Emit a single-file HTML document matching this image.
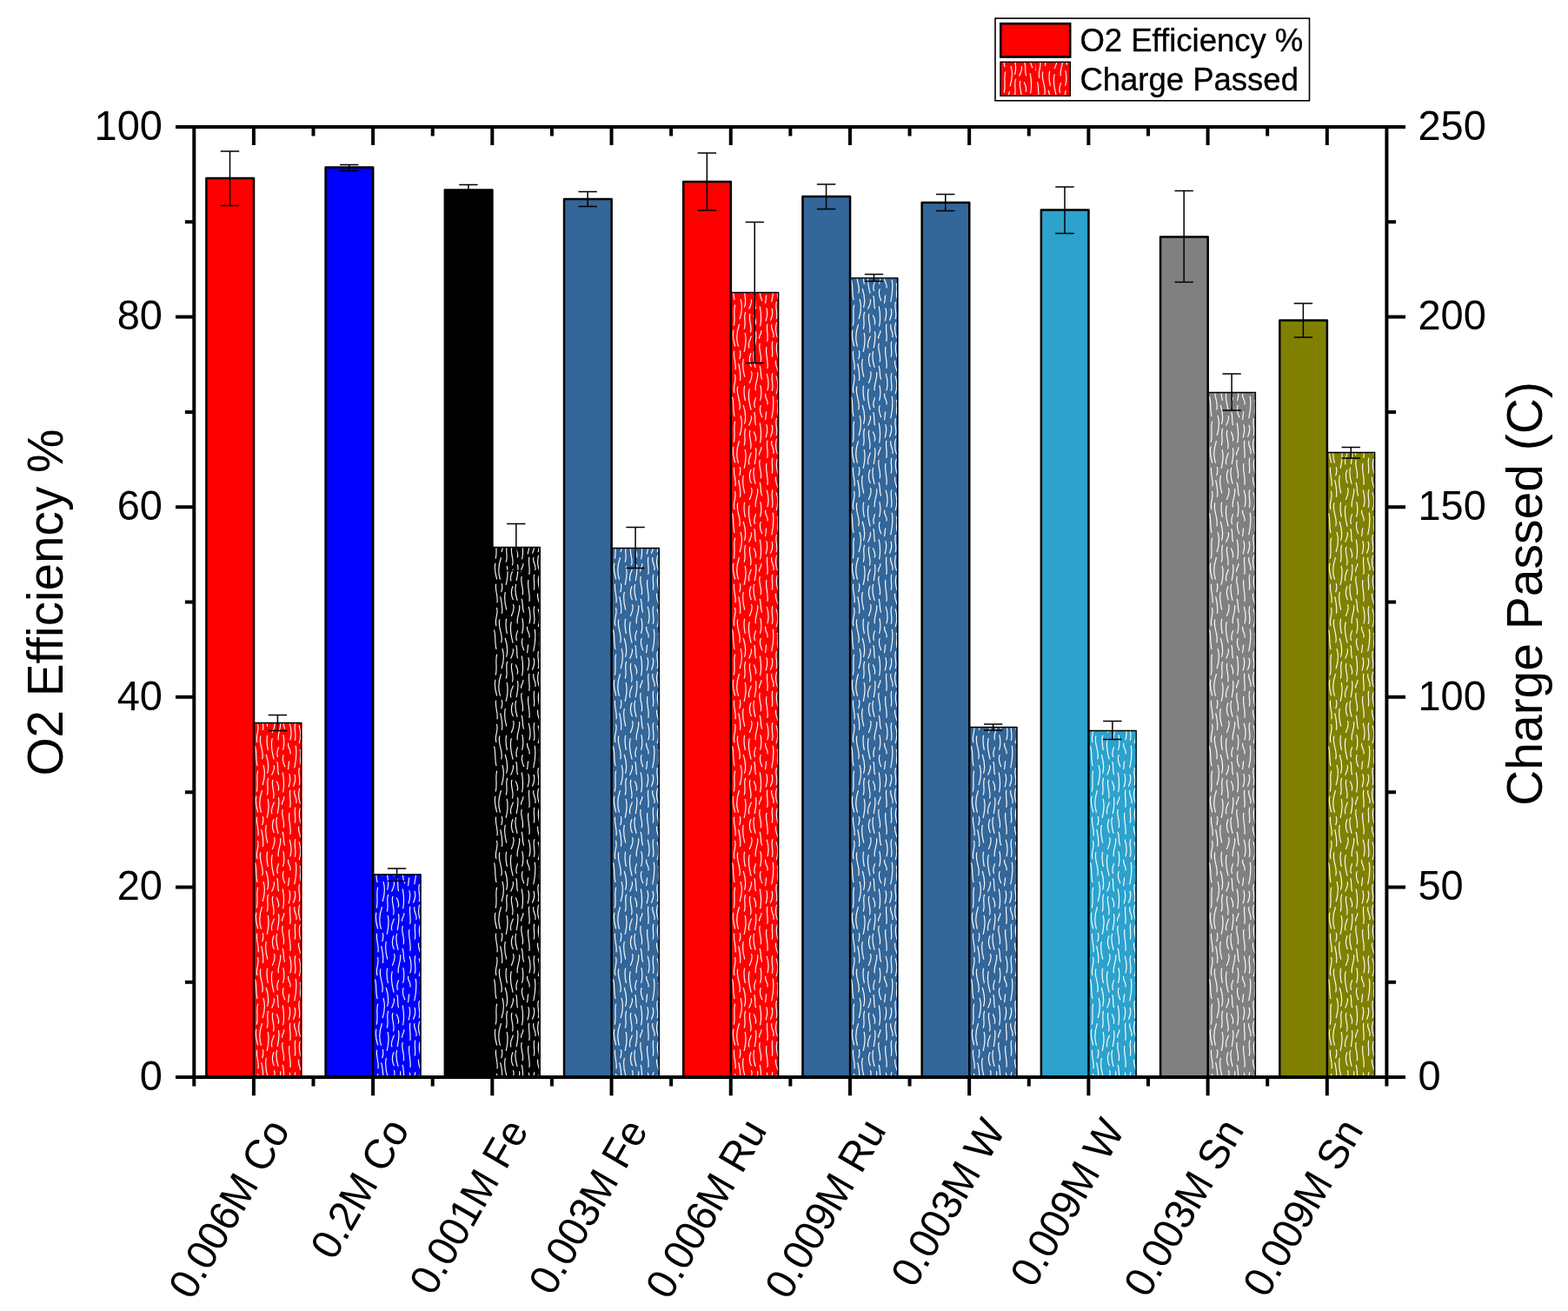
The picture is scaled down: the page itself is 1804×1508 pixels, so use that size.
<!DOCTYPE html>
<html lang="en">
<head>
<meta charset="utf-8">
<title>O2 Efficiency and Charge Passed</title>
<style>
html,body{margin:0;padding:0;background:#fff;}
body{width:1804px;height:1508px;overflow:hidden;}
svg{display:block;}
</style>
</head>
<body>
<svg width="1804" height="1508" viewBox="0 0 1804 1508">
<defs><pattern id="wv" width="58" height="134" patternUnits="userSpaceOnUse"><path d="M4.6 2.0C3.3 8.9 7.3 16.1 6.0 23.0M5.5 29.4C7.9 36.0 2.5 42.9 4.9 49.6M2.6 54.9C4.6 62.1 3.0 69.5 5.0 76.7M5.6 83.0C3.6 90.7 6.3 98.5 4.3 106.1M3.9 112.1C2.2 118.0 4.0 124.1 5.6 130.0M9.8 16.7C11.1 22.9 12.7 29.3 11.4 35.5M8.8 42.9C6.3 51.5 13.3 60.3 10.8 68.9M12.1 76.3C14.3 83.7 13.5 91.3 11.2 98.7M10.4 105.5C7.6 113.7 6.6 122.0 9.4 130.2M11.3 1.5C12.3 4.5 11.8 7.7 10.8 10.7M16.6 42.2C15.4 47.6 16.1 53.1 17.3 58.5M15.3 64.3C17.5 71.2 18.7 78.4 16.6 85.3M17.6 91.2C15.2 97.4 18.6 103.8 16.3 110.1M17.2 115.4C18.9 122.3 17.9 129.5 16.2 136.4M17.2 -18.6C18.9 -11.7 17.9 -4.5 16.2 2.4M15.3 11.3C13.6 17.9 15.0 24.6 16.7 31.2M24.5 25.6C26.4 29.8 24.2 34.2 22.4 38.4M22.2 45.7C20.2 53.4 22.0 61.4 24.0 69.1M24.2 76.6C25.6 80.1 23.2 83.6 21.8 87.1M22.9 93.3C20.6 100.1 25.9 107.2 23.5 114.0M24.3 119.1C22.6 123.3 20.2 127.7 21.9 131.9M23.9 4.6C21.8 9.5 22.0 14.6 24.2 19.6M27.9 72.5C29.5 77.2 27.9 82.1 29.5 86.8M27.5 94.9C29.1 98.2 30.8 101.7 29.2 105.1M29.5 113.6C30.7 119.5 29.5 125.7 28.3 131.7M27.6 2.3C25.9 8.3 27.3 14.4 29.0 20.4M31.6 26.5C32.9 33.2 28.0 40.1 29.3 46.8M29.5 55.6C28.1 59.2 27.1 62.9 28.5 66.5M34.2 127.3C32.2 134.1 37.1 141.1 35.2 147.9M34.2 -6.7C32.2 0.1 37.1 7.1 35.2 13.9M34.2 19.2C36.2 24.1 34.4 29.2 36.5 34.1M34.9 41.7C36.3 47.2 36.1 52.8 34.7 58.3M35.2 64.6C33.3 68.9 34.8 73.5 36.7 77.8M34.3 84.9C35.7 92.2 36.1 99.7 34.7 106.9M35.8 112.5C36.6 115.4 32.8 118.4 33.7 121.3M41.9 86.6C43.4 91.3 42.7 96.2 41.2 101.0M42.8 105.1C41.6 111.5 44.1 118.1 42.8 124.5M41.9 131.4C40.3 139.3 44.4 147.5 42.9 155.5M41.9 -2.6C40.3 5.3 44.4 13.5 42.9 21.5M42.3 28.1C44.1 34.3 44.8 40.7 43.0 46.9M40.8 51.2C39.1 55.1 44.6 59.0 42.9 62.9M41.7 71.9C40.8 74.7 41.5 77.7 40.5 80.6M48.8 27.6C46.5 34.1 50.6 40.9 48.3 47.4M49.2 54.1C50.8 62.3 49.5 70.8 47.8 79.0M48.0 87.2C49.8 91.5 48.5 95.9 46.6 100.2M47.9 105.5C46.2 110.1 51.6 114.9 49.8 119.5M48.7 125.1C47.2 130.7 49.8 136.5 48.3 142.1M48.7 -8.9C47.2 -3.3 49.8 2.5 48.3 8.1M54.2 126.1C52.5 131.6 53.4 137.3 55.0 142.8M54.2 -7.9C52.5 -2.4 53.4 3.3 55.0 8.8M52.7 13.0C51.6 17.0 54.0 21.2 55.0 25.2M53.2 30.9C55.3 37.4 55.3 44.1 53.3 50.6M54.3 58.3C56.3 63.9 53.1 69.6 55.1 75.2M53.5 79.5C51.1 85.8 55.6 92.3 53.2 98.6M53.6 103.1C51.8 108.7 52.5 114.5 54.4 120.1" fill="none" stroke="#fff" stroke-opacity="0.95" stroke-width="1.2" stroke-linecap="round"/></pattern></defs>
<rect width="1804" height="1508" fill="#fff"/>
<rect x="291.91" y="831.00" width="55.60" height="407.60" fill="#ff0000"/>
<rect transform="translate(291 0)" x="1.21" y="832.10" width="54.00" height="405.60" fill="url(#wv)"/>
<path d="M291.61 1239.10V831.50H346.61V1239.10" fill="none" stroke="#000" stroke-width="1.35"/>
<rect x="237.41" y="205.10" width="54.60" height="1034.10" fill="#ff0000" stroke="#000" stroke-width="2.5" stroke-linejoin="round"/>
<path d="M264.51 174.00V236.50M253.81 174.00h21.4M253.81 236.50h21.4" fill="none" stroke="#000" stroke-width="1.5"/>
<path d="M319.41 822.50V840.50M308.71 822.50h21.4M308.71 840.50h21.4" fill="none" stroke="#000" stroke-width="1.5"/>
<rect x="429.12" y="1005.50" width="55.60" height="233.10" fill="#0000ff"/>
<rect transform="translate(429 0)" x="0.42" y="1006.60" width="54.00" height="231.10" fill="url(#wv)"/>
<path d="M428.81 1239.10V1006.00H483.81V1239.10" fill="none" stroke="#000" stroke-width="1.35"/>
<rect x="374.62" y="192.60" width="54.60" height="1046.60" fill="#0000ff" stroke="#000" stroke-width="2.5" stroke-linejoin="round"/>
<path d="M401.72 189.50V196.50M391.02 189.50h21.4M391.02 196.50h21.4" fill="none" stroke="#000" stroke-width="1.5"/>
<path d="M456.62 999.00V1013.50M445.92 999.00h21.4M445.92 1013.50h21.4" fill="none" stroke="#000" stroke-width="1.5"/>
<rect x="566.33" y="629.00" width="55.60" height="609.60" fill="#000000"/>
<rect transform="translate(566 0)" x="0.63" y="630.10" width="54.00" height="607.60" fill="url(#wv)"/>
<path d="M566.03 1239.10V629.50H621.03V1239.10" fill="none" stroke="#000" stroke-width="1.35"/>
<rect x="511.83" y="218.60" width="54.60" height="1020.60" fill="#000000" stroke="#000" stroke-width="2.5" stroke-linejoin="round"/>
<path d="M538.93 212.50V224.50M528.23 212.50h21.4M528.23 224.50h21.4" fill="none" stroke="#000" stroke-width="1.5"/>
<path d="M593.83 602.50V656.50M583.12 602.50h21.4M583.12 656.50h21.4" fill="none" stroke="#000" stroke-width="1.5"/>
<rect x="703.54" y="630.00" width="55.60" height="608.60" fill="#336699"/>
<rect transform="translate(703 0)" x="0.84" y="631.10" width="54.00" height="606.60" fill="url(#wv)"/>
<path d="M703.24 1239.10V630.50H758.24V1239.10" fill="none" stroke="#000" stroke-width="1.35"/>
<rect x="649.04" y="229.10" width="54.60" height="1010.10" fill="#336699" stroke="#000" stroke-width="2.5" stroke-linejoin="round"/>
<path d="M676.14 220.50V237.50M665.44 220.50h21.4M665.44 237.50h21.4" fill="none" stroke="#000" stroke-width="1.5"/>
<path d="M731.04 606.50V653.50M720.34 606.50h21.4M720.34 653.50h21.4" fill="none" stroke="#000" stroke-width="1.5"/>
<rect x="840.75" y="336.00" width="55.60" height="902.60" fill="#ff0000"/>
<rect transform="translate(840 0)" x="1.05" y="337.10" width="54.00" height="900.60" fill="url(#wv)"/>
<path d="M840.45 1239.10V336.50H895.45V1239.10" fill="none" stroke="#000" stroke-width="1.35"/>
<rect x="786.25" y="209.10" width="54.60" height="1030.10" fill="#ff0000" stroke="#000" stroke-width="2.5" stroke-linejoin="round"/>
<path d="M813.35 176.00V242.00M802.65 176.00h21.4M802.65 242.00h21.4" fill="none" stroke="#000" stroke-width="1.5"/>
<path d="M868.25 255.50V417.50M857.55 255.50h21.4M857.55 417.50h21.4" fill="none" stroke="#000" stroke-width="1.5"/>
<rect x="977.96" y="319.30" width="55.60" height="919.30" fill="#336699"/>
<rect transform="translate(977 0)" x="1.26" y="320.40" width="54.00" height="917.30" fill="url(#wv)"/>
<path d="M977.66 1239.10V319.80H1032.66V1239.10" fill="none" stroke="#000" stroke-width="1.35"/>
<rect x="923.46" y="226.10" width="54.60" height="1013.10" fill="#336699" stroke="#000" stroke-width="2.5" stroke-linejoin="round"/>
<path d="M950.56 212.00V240.50M939.86 212.00h21.4M939.86 240.50h21.4" fill="none" stroke="#000" stroke-width="1.5"/>
<path d="M1005.46 315.50V323.60M994.76 315.50h21.4M994.76 323.60h21.4" fill="none" stroke="#000" stroke-width="1.5"/>
<rect x="1115.16" y="836.00" width="55.60" height="402.60" fill="#336699"/>
<rect transform="translate(1115 0)" x="0.46" y="837.10" width="54.00" height="400.60" fill="url(#wv)"/>
<path d="M1114.87 1239.10V836.50H1169.87V1239.10" fill="none" stroke="#000" stroke-width="1.35"/>
<rect x="1060.66" y="233.10" width="54.60" height="1006.10" fill="#336699" stroke="#000" stroke-width="2.5" stroke-linejoin="round"/>
<path d="M1087.76 223.50V242.50M1077.06 223.50h21.4M1077.06 242.50h21.4" fill="none" stroke="#000" stroke-width="1.5"/>
<path d="M1142.66 833.00V840.00M1131.96 833.00h21.4M1131.96 840.00h21.4" fill="none" stroke="#000" stroke-width="1.5"/>
<rect x="1252.38" y="840.00" width="55.60" height="398.60" fill="#2ca2cd"/>
<rect transform="translate(1252 0)" x="0.68" y="841.10" width="54.00" height="396.60" fill="url(#wv)"/>
<path d="M1252.08 1239.10V840.50H1307.08V1239.10" fill="none" stroke="#000" stroke-width="1.35"/>
<rect x="1197.88" y="241.60" width="54.60" height="997.60" fill="#2ca2cd" stroke="#000" stroke-width="2.5" stroke-linejoin="round"/>
<path d="M1224.97 215.00V268.50M1214.27 215.00h21.4M1214.27 268.50h21.4" fill="none" stroke="#000" stroke-width="1.5"/>
<path d="M1279.88 829.50V850.50M1269.17 829.50h21.4M1269.17 850.50h21.4" fill="none" stroke="#000" stroke-width="1.5"/>
<rect x="1389.59" y="451.00" width="55.60" height="787.60" fill="#808080"/>
<rect transform="translate(1389 0)" x="0.89" y="452.10" width="54.00" height="785.60" fill="url(#wv)"/>
<path d="M1389.29 1239.10V451.50H1444.29V1239.10" fill="none" stroke="#000" stroke-width="1.35"/>
<rect x="1335.09" y="272.60" width="54.60" height="966.60" fill="#808080" stroke="#000" stroke-width="2.5" stroke-linejoin="round"/>
<path d="M1362.18 219.50V324.50M1351.48 219.50h21.4M1351.48 324.50h21.4" fill="none" stroke="#000" stroke-width="1.5"/>
<path d="M1417.09 430.00V472.00M1406.38 430.00h21.4M1406.38 472.00h21.4" fill="none" stroke="#000" stroke-width="1.5"/>
<rect x="1526.80" y="520.00" width="55.60" height="718.60" fill="#808000"/>
<rect transform="translate(1526 0)" x="1.10" y="521.10" width="54.00" height="716.60" fill="url(#wv)"/>
<path d="M1526.50 1239.10V520.50H1581.50V1239.10" fill="none" stroke="#000" stroke-width="1.35"/>
<rect x="1472.30" y="368.60" width="54.60" height="870.60" fill="#808000" stroke="#000" stroke-width="2.5" stroke-linejoin="round"/>
<path d="M1499.39 349.00V388.00M1488.69 349.00h21.4M1488.69 388.00h21.4" fill="none" stroke="#000" stroke-width="1.5"/>
<path d="M1554.30 514.50V527.00M1543.60 514.50h21.4M1543.60 527.00h21.4" fill="none" stroke="#000" stroke-width="1.5"/>
<path d="M202.00 146.00H1617.00M202.00 1239.10H1617.00M223.30 146.00V1249.50M1595.40 146.00V1249.50M212.90 255.31H223.30M1595.40 255.31H1606.00M202.00 364.62H223.30M1595.40 364.62H1617.00M212.90 473.93H223.30M1595.40 473.93H1606.00M202.00 583.24H223.30M1595.40 583.24H1617.00M212.90 692.55H223.30M1595.40 692.55H1606.00M202.00 801.86H223.30M1595.40 801.86H1617.00M212.90 911.17H223.30M1595.40 911.17H1606.00M202.00 1020.48H223.30M1595.40 1020.48H1617.00M212.90 1129.79H223.30M1595.40 1129.79H1606.00M291.91 146.00V167.10M291.91 1239.10V1260.30M360.51 146.00V156.40M360.51 1239.10V1249.50M429.12 146.00V167.10M429.12 1239.10V1260.30M497.72 146.00V156.40M497.72 1239.10V1249.50M566.33 146.00V167.10M566.33 1239.10V1260.30M634.93 146.00V156.40M634.93 1239.10V1249.50M703.54 146.00V167.10M703.54 1239.10V1260.30M772.14 146.00V156.40M772.14 1239.10V1249.50M840.75 146.00V167.10M840.75 1239.10V1260.30M909.35 146.00V156.40M909.35 1239.10V1249.50M977.96 146.00V167.10M977.96 1239.10V1260.30M1046.56 146.00V156.40M1046.56 1239.10V1249.50M1115.16 146.00V167.10M1115.16 1239.10V1260.30M1183.77 146.00V156.40M1183.77 1239.10V1249.50M1252.38 146.00V167.10M1252.38 1239.10V1260.30M1320.98 146.00V156.40M1320.98 1239.10V1249.50M1389.59 146.00V167.10M1389.59 1239.10V1260.30M1458.19 146.00V156.40M1458.19 1239.10V1249.50M1526.80 146.00V167.10M1526.80 1239.10V1260.30" fill="none" stroke="#000" stroke-width="4.0"/>
<rect x="1145" y="21.1" width="361.5" height="94.7" fill="#fff" stroke="#000" stroke-width="1.6"/>
<rect x="1151.3" y="27.2" width="79.9" height="38.3" fill="#ff0000" stroke="#000" stroke-width="2.6"/>
<rect x="1151" y="71.3" width="80.3" height="38.9" fill="#ff0000"/>
<rect transform="translate(1151 0)" x="0.7" y="72" width="40" height="37.5" fill="url(#wv)"/>
<rect transform="translate(1191 40)" x="0" y="32" width="39.7" height="37.5" fill="url(#wv)"/>
<rect x="1151" y="71.3" width="80.3" height="38.9" fill="none" stroke="#000" stroke-width="1.4"/>
<g font-family='"Liberation Sans", Arial, Helvetica, sans-serif' fill="#000">
<text transform="translate(187.00 1253.80) scale(1 1.035)" font-size="47" text-anchor="end">0</text>
<text transform="translate(1631.40 1253.80) scale(1 1.035)" font-size="47" text-anchor="start">0</text>
<text transform="translate(187.00 1035.18) scale(1 1.035)" font-size="47" text-anchor="end">20</text>
<text transform="translate(1631.40 1035.18) scale(1 1.035)" font-size="47" text-anchor="start">50</text>
<text transform="translate(187.00 816.56) scale(1 1.035)" font-size="47" text-anchor="end">40</text>
<text transform="translate(1631.40 816.56) scale(1 1.035)" font-size="47" text-anchor="start">100</text>
<text transform="translate(187.00 597.94) scale(1 1.035)" font-size="47" text-anchor="end">60</text>
<text transform="translate(1631.40 597.94) scale(1 1.035)" font-size="47" text-anchor="start">150</text>
<text transform="translate(187.00 379.32) scale(1 1.035)" font-size="47" text-anchor="end">80</text>
<text transform="translate(1631.40 379.32) scale(1 1.035)" font-size="47" text-anchor="start">200</text>
<text transform="translate(187.00 160.70) scale(1 1.035)" font-size="47" text-anchor="end">100</text>
<text transform="translate(1631.40 160.70) scale(1 1.035)" font-size="47" text-anchor="start">250</text>
<text transform="translate(220.90 1496.65) rotate(-60) scale(1 1.025)" font-size="47" text-anchor="start" letter-spacing="-0.31">0.006M Co</text>
<text transform="translate(384.25 1451.37) rotate(-60) scale(1 1.025)" font-size="47" text-anchor="start" letter-spacing="-0.31">0.2M Co</text>
<text transform="translate(497.94 1492.12) rotate(-60) scale(1 1.025)" font-size="47" text-anchor="start" letter-spacing="-0.31">0.001M Fe</text>
<text transform="translate(635.15 1492.12) rotate(-60) scale(1 1.025)" font-size="47" text-anchor="start" letter-spacing="-0.31">0.003M Fe</text>
<text transform="translate(769.74 1496.65) rotate(-60) scale(1 1.025)" font-size="47" text-anchor="start" letter-spacing="-0.31">0.006M Ru</text>
<text transform="translate(906.95 1496.65) rotate(-60) scale(1 1.025)" font-size="47" text-anchor="start" letter-spacing="-0.31">0.009M Ru</text>
<text transform="translate(1052.03 1483.03) rotate(-60) scale(1 1.025)" font-size="47" text-anchor="start" letter-spacing="-0.31">0.003M W</text>
<text transform="translate(1189.24 1483.03) rotate(-60) scale(1 1.025)" font-size="47" text-anchor="start" letter-spacing="-0.31">0.009M W</text>
<text transform="translate(1319.88 1494.40) rotate(-60) scale(1 1.025)" font-size="47" text-anchor="start" letter-spacing="-0.31">0.003M Sn</text>
<text transform="translate(1457.09 1494.40) rotate(-60) scale(1 1.025)" font-size="47" text-anchor="start" letter-spacing="-0.31">0.009M Sn</text>
<text transform="translate(72.00 892.60) rotate(-90) scale(1 1.02)" font-size="56.7" text-anchor="start">O2 Efficiency %</text>
<text transform="translate(1774.20 926.90) rotate(-90) scale(1 1.02)" font-size="57" text-anchor="start">Charge Passed (C)</text>
<g stroke="#000" stroke-width="0.35">
<text transform="translate(1242.40 58.60) scale(1 1.02)" font-size="36.5" text-anchor="start">O2 Efficiency %</text>
<text transform="translate(1242.40 103.50) scale(1 1.02)" font-size="36.5" text-anchor="start">Charge Passed</text>
</g>
</g>
</svg>
</body>
</html>
